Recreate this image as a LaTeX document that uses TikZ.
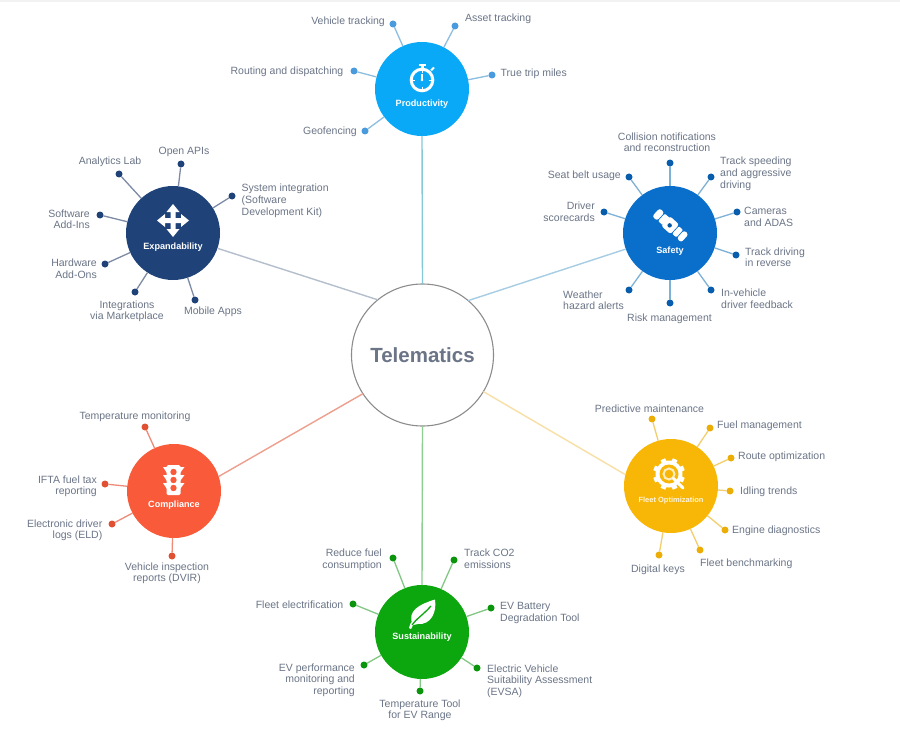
\documentclass[tikz,border=0pt]{standalone}
\usepackage{fontspec}
\usetikzlibrary{calc}
\setmainfont{Liberation Sans}
\definecolor{txt}{HTML}{6B7587}
\definecolor{cprod}{HTML}{0AA9F7}
\definecolor{csafe}{HTML}{0A6FCB}
\definecolor{cexp}{HTML}{1F4279}
\definecolor{ccomp}{HTML}{F95A3A}
\definecolor{csust}{HTML}{0CA60F}
\definecolor{cfleet}{HTML}{F8B606}
\definecolor{dprod}{HTML}{4A9BDD}
\definecolor{lprod}{HTML}{8DBEDF}
\definecolor{lsafe}{HTML}{7EB1D6}
\definecolor{lexp}{HTML}{7D8BA5}
\definecolor{lcomp}{HTML}{EE8B78}
\definecolor{lsust}{HTML}{82C784}
\definecolor{lfleet}{HTML}{F3CE6E}
\definecolor{tprod}{HTML}{86C9D6}
\definecolor{tsafe}{HTML}{A6CDE3}
\definecolor{texp}{HTML}{B5BFCC}
\definecolor{tcomp}{HTML}{EE9F8E}
\definecolor{tsust}{HTML}{8CCF90}
\definecolor{tfleet}{HTML}{F8DFA5}
\tikzset{
 x=1pt,y=-1pt,
 hub/.style={circle,minimum size=94pt,inner sep=0pt,outer sep=0pt,fill=#1},
 hublabel/.style={text=white,font=\bfseries\fontsize{9.1}{10}\selectfont,inner sep=0pt},
 dot/.style={circle,minimum size=7pt,inner sep=0pt,outer sep=0pt,fill=#1},
 lab/.style={text=txt,inner sep=0pt,yshift=-1.2pt,font=\fontsize{10.5}{11.8}\selectfont},
 labl/.style={lab,anchor=west,align=left},
 labr/.style={lab,anchor=east,align=right},
 labc/.style={lab,anchor=center,align=center},
 spoke/.style={line width=1.3pt,draw=#1},
 trunk/.style={line width=1.4pt,draw=#1},
}
\begin{document}
\begin{tikzpicture}
\useasboundingbox (0,0) rectangle (900,741);
\fill[white] (0,0) rectangle (900,741);
\fill[black!5] (0,0) rectangle (900,2.5);
% hubs
\node[circle,minimum size=142pt,inner sep=0pt,outer sep=0pt,draw=black!45,line width=1.1pt,text=txt,font=\bfseries\fontsize{20.5}{24}\selectfont] (tel) at (422.5,355) {Telematics};
\node[hub=cprod] (prod) at (422,89) {};
\node[hub=csafe] (safe) at (670,233) {};
\node[hub=cexp] (expa) at (173,233) {};
\node[hub=ccomp] (comp) at (174,491) {};
\node[hub=csust] (sust) at (422,632) {};
\node[hub=cfleet] (fleet) at (671,486) {};
\node[hublabel] (prodl) at (422,104.5) {Productivity};
\node[hublabel] (safel) at (670,251.5) {Safety};
\node[hublabel] (expal) at (173,247.5) {Expandability};
\node[hublabel] (compl) at (174,505.5) {Compliance};
\node[hublabel] (sustl) at (422,637.5) {Sustainability};
\node[hublabel,font=\bfseries\fontsize{7.5}{9}\selectfont,text=white!85!cfleet] (fleetl) at (671,500.5) {Fleet Optimization};
% trunks
\draw[trunk=tprod] (prod.south) -- (tel.north);
\draw[trunk=tsafe] (safe.200) -- (tel.50);
\draw[trunk=texp] (expa.-19) -- (tel.129);
\draw[trunk=tcomp] (comp.18) -- (tel.213);
\draw[trunk=tsust] (tel.south) -- (sust.north);
\draw[trunk=tfleet] (fleet.166) -- (tel.-31);
% productivity
\foreach \n/\x/\y in {a/393/24,b/455/26,c/492/75,d/354/71,e/365/131}{
 \node[dot=dprod] (p\n) at (\x,\y) {};
 \draw[spoke=lprod] (p\n) -- (prod);
}
\node[labr] (pla) at (385,21) {Vehicle tracking};
\node[labl] (plb) at (465,18) {Asset tracking};
\node[labl] (plc) at (500.5,73) {True trip miles};
\node[labr] (pld) at (343.5,71) {Routing and dispatching};
\node[labr] (ple) at (357,131) {Geofencing};
% safety
\foreach \n/\x/\y in {a/670/163,b/711/177,c/737/212,d/736/255,e/711/290,f/670/303,g/629/290,h/604/212,i/629/177}{
 \node[dot=csafe!85!black] (s\n) at (\x,\y) {};
 \draw[spoke=lsafe] (s\n) -- (safe);
}
\node[labc] (sla) at (667,141) {Collision notifications\\and reconstruction};
\node[labl] (slb) at (720,172.5) {Track speeding\\and aggressive\\driving};
\node[labl] (slc) at (744,215.5) {Cameras\\and ADAS};
\node[labl] (sld) at (745,256) {Track driving\\in reverse};
\node[labl] (sle) at (721,297.5) {In-vehicle\\driver feedback};
\node[labc] (slf) at (669.5,318) {Risk management};
\node[labl] (slg) at (563,299) {Weather\\hazard alerts};
\node[labr] (slh) at (595,210.5) {Driver\\scorecards};
\node[labr] (sli) at (621,175) {Seat belt usage};
% expandability
\foreach \n/\x/\y in {a/181/164,b/232/196,c/119/174,d/100/215,e/105/264,f/135/292,g/195/300}{
 \node[dot=cexp] (e\n) at (\x,\y) {};
 \draw[spoke=lexp] (e\n) -- (expa);
}
\node[labc] (ela) at (184,151) {Open APIs};
\node[labl] (elb) at (241.5,199.5) {System integration\\(Software\\Development Kit)};
\node[labc] (elc) at (110,161) {Analytics Lab};
\node[labr] (eld) at (90,218) {Software\\Add-Ins};
\node[labr] (ele) at (97,267.5) {Hardware\\Add-Ons};
\node[labc] (elf) at (127,310) {Integrations\\via Marketplace};
\node[labc] (elg) at (213,311) {Mobile Apps};
% compliance
\foreach \n/\x/\y in {a/145/427,b/105/484,c/112/524,d/172/556}{
 \node[dot=ccomp!90!black] (c\n) at (\x,\y) {};
 \draw[spoke=lcomp] (c\n) -- (comp);
}
\node[labc] (cla) at (135,416) {Temperature monitoring};
\node[labr] (clb) at (97,485) {IFTA fuel tax\\reporting};
\node[labr] (clc) at (102.5,529) {Electronic driver\\logs (ELD)};
\node[labc] (cld) at (167,572) {Vehicle inspection\\reports (DVIR)};
% sustainability
\foreach \n/\x/\y in {a/393/558,b/454/560,c/491/608,d/477/668,e/420/691,f/364/665,g/353/604}{
 \node[dot=csust!90!black] (u\n) at (\x,\y) {};
 \draw[spoke=lsust] (u\n) -- (sust);
}
\node[labr] (ula) at (382,558.5) {Reduce fuel\\consumption};
\node[labl] (ulb) at (464,557.5) {Track CO2\\emissions};
\node[labl] (ulc) at (500,612) {EV Battery\\Degradation Tool};
\node[labl] (uld) at (487,680) {Electric Vehicle\\Suitability Assessment\\(EVSA)};
\node[labc] (ule) at (420,709) {Temperature Tool\\for EV Range};
\node[labr] (ulf) at (355,679) {EV performance\\monitoring and\\reporting};
\node[labr] (ulg) at (343.5,604) {Fleet electrification};
% fleet
\foreach \n/\x/\y in {a/652/419,b/710/428,c/731/458,d/730/491,e/725/530,f/700/550,g/659/555}{
 \node[dot=cfleet!95!black] (f\n) at (\x,\y) {};
 \draw[spoke=lfleet] (f\n) -- (fleet);
}
\node[labc] (fla) at (649.5,408) {Predictive maintenance};
\node[labl] (flb) at (717,425) {Fuel management};
\node[labl] (flc) at (738,456) {Route optimization};
\node[labl] (fld) at (740,491) {Idling trends};
\node[labl] (fle) at (732,530) {Engine diagnostics};
\node[labl] (flf) at (700,563) {Fleet benchmarking};
\node[labc] (flg) at (658,569) {Digital keys};
% --- icons ---
% stopwatch
\draw[white,line width=3pt] (422,80) circle (10.8);
\fill[white] (418.5,64) rectangle (425.5,66.5);
\fill[white] (420.5,66) rectangle (423.5,69);
\draw[white,line width=1.8pt] (431,70.5) -- (434,67.5);
\draw[white,line width=1.1pt] (422,80) -- (422,74);
\fill[white] (422,80) circle (1.4);
\foreach \a in {0,90,180,270}{\draw[white,line width=.9pt] ($(422,80)+(\a:6.8)$) -- ($(422,80)+(\a:9)$);}
% seat belt
\begin{scope}[rotate around={-42:(670,225)}]
\fill[white,rounded corners=2.5pt] (651,219.5) rectangle (657.5,230.5);
\fill[white,rounded corners=1pt] (658.5,220) rectangle (665,230);
\fill[white,rounded corners=2.5pt] (664,218.5) rectangle (676.5,231.5);
\fill[white,rounded corners=1pt] (677.5,220) rectangle (683,230);
\fill[white,rounded corners=2.5pt] (684,219.5) rectangle (690,230.5);
\fill[csafe!80!black] (670,225.5) circle (2.2);
\end{scope}
% arrows
\fill[white] (173,204) -- (179.5,212) -- (175.5,212) -- (175.5,218) -- (181,218) -- (181,214) -- (189,220.5) -- (181,227) -- (181,223) -- (175.5,223) -- (175.5,229) -- (179.5,229) -- (173,237) -- (166.5,229) -- (170.5,229) -- (170.5,223) -- (165,223) -- (165,227) -- (157,220.5) -- (165,214) -- (165,218) -- (170.5,218) -- (170.5,212) -- (166.5,212) -- cycle;
% traffic light
\fill[white,rounded corners=1.5pt] (166.5,465) rectangle (180.5,495);
\foreach \y in {467,475,483}{
 \fill[white] (163,\y) -- (167,\y) -- (167,\y+6) -- cycle;
 \fill[white] (184.5,\y) -- (180,\y) -- (180,\y+6) -- cycle;
}
\foreach \y in {472,480,488}{\fill[ccomp] (173.5,\y) circle (3.2);}
% leaf
\fill[white] (413,625) .. controls (406,611) and (420,604) .. (435,599.5) .. controls (437,612) and (431,625) .. (418,624) -- cycle;
\fill[white] (409,628) .. controls (410,622) and (414,618) .. (420,616) -- (421,619) .. controls (416,621) and (413,624) .. (411,629) -- cycle;
\draw[csust,line width=1.3pt] (412,625) .. controls (416,619) and (423,615) .. (431,606);
% gear
\fill[white] (669,474) circle (13.5);
\foreach \a in {0,45,...,315}{\draw[white,line width=5pt] ($(669,474)+(\a+22.5:11)$) -- ($(669,474)+(\a+22.5:16)$);}
\fill[cfleet] (669,474) circle (9.5);
\draw[white!75!cfleet,line width=2pt] (669,474) circle (5.5);
\draw[white,line width=3pt,line cap=round] (673.5,478.5) -- (683,488);
\end{tikzpicture}
\end{document}
